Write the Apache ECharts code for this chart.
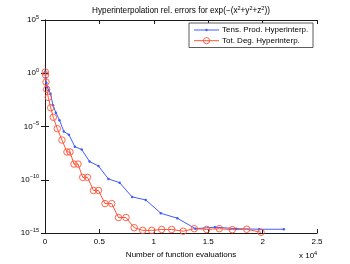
<!DOCTYPE html>
<html><head><meta charset="utf-8">
<script src="https://cdn.jsdelivr.net/npm/echarts@6/dist/echarts.min.js"></script>
<style>html,body{margin:0;padding:0;background:#fff}#c{width:350px;height:264px}</style>
</head><body><div id="c"></div>
<script>
// ---- data ----
const tpName = 'Tens. Prod. Hyperinterp.';
const tdName = 'Tot. Deg. Hyperinterp.';
const tpX = [27, 64, 125, 216, 343, 512, 729, 1000, 1331, 1728, 2197, 2744, 3375, 4096, 4913, 5832, 6859, 8000, 9261, 10648, 12167, 13824, 15625, 17576, 19683, 21952];
const tpY = [1.5, 3.6e-1, 1.2e-1, 5.2e-2, 2.5e-2, 1.2e-2, 1.0e-3, 2.0e-4, 4.0e-5, 3.5e-6, 1.7e-6, 1.3e-7, 6.9e-8, 5.2e-9, 2.0e-9, 1.2e-10, 5.4e-11, 2.5e-12, 1.3e-12, 7.2e-14, 2.5e-14, 2.6e-15, 3.6e-15, 2.6e-15, 2.3e-15, 2.3e-15];
const tdX = [28, 46, 92, 156, 303, 524, 763, 1130, 1562, 2022, 2298, 2665, 3033, 3465, 3906, 4458, 4917, 5515, 6130, 6755, 7445, 8199, 8980, 9807, 10726, 11645, 12711, 13722, 14862, 16020, 17215, 18538, 19853];
const tdY = [1.3, 6.9e-1, 1.5e-1, 3.1e-2, 5.5e-3, 5.8e-4, 7.4e-5, 6.3e-6, 5.4e-7, 4.1e-8, 4.1e-8, 3.0e-9, 3.0e-9, 1.7e-10, 1.7e-10, 1.0e-11, 1.0e-11, 5.9e-13, 5.9e-13, 2.9e-14, 2.9e-14, 3.2e-15, 1.8e-15, 1.8e-15, 2.2e-15, 2.2e-15, 1.5e-15, 2.6e-15, 2.2e-15, 2.6e-15, 2.1e-15, 2.3e-15, 1.2e-15];
const xTickLabels = ['0', '0.5', '1', '1.5', '2', '2.5'];
const yTickExps = [-15, -10, -5, 0, 5];
const xName = 'Number of function evaluations';

const FONT = 'Liberation Sans, Arial, Helvetica, sans-serif';
const AX = '#1a1a1a';
const BLUE = '#3f5cff';
const RED = '#ff5438';

const supRich = {
  b: {fontSize: 8, fontFamily: FONT, color: '#000', lineHeight: 12},
  s: {fontSize: 5.5, fontFamily: FONT, color: '#000', lineHeight: 6, verticalAlign: 'top'}
};
const supRichG = {s: {fontSize: 5.5, fontFamily: FONT, fill: '#000', lineHeight: 6, verticalAlign: 'top'}};

function pair(xs, ys) { return xs.map((x, i) => [x, ys[i]]); }
function expLabel(v) {
  const e = Math.round(Math.log10(v));
  if (yTickExps.indexOf(e) < 0) return '';
  return '{b|10}{s|' + String(e).replace('-', '\u2212') + '}';
}

const chart = echarts.init(document.getElementById('c'), null, {renderer: 'canvas'});
const gridL = 45, gridR = 33, gridT = 20, gridB = 30;

// legend drawn as graphic (box, sample lines, markers, labels)
const LG = {x: 189, y: 23, w: 124, h: 24.5, lx0: 194, lx1: 219, tx: 222, y1: 30, y2: 40.7};
const legendGraphics = [
  {type: 'rect', z: 100, shape: {x: LG.x, y: LG.y, width: LG.w, height: LG.h},
   style: {fill: '#fff', stroke: '#333', lineWidth: 0.8}},
  {type: 'line', z: 101, shape: {x1: LG.lx0, y1: LG.y1, x2: LG.lx1, y2: LG.y1}, style: {stroke: BLUE, lineWidth: 1}},
  {type: 'circle', z: 101, shape: {cx: (LG.lx0 + LG.lx1) / 2, cy: LG.y1, r: 1.2}, style: {fill: BLUE}},
  {type: 'line', z: 101, shape: {x1: LG.lx0, y1: LG.y2, x2: LG.lx1, y2: LG.y2}, style: {stroke: RED, lineWidth: 1}},
  {type: 'circle', z: 101, shape: {cx: (LG.lx0 + LG.lx1) / 2, cy: LG.y2, r: 3.1}, style: {fill: 'none', stroke: RED, lineWidth: 0.9}},
  {type: 'text', z: 101, x: LG.tx, y: LG.y1, style: {text: tpName, fontSize: 8, fontFamily: FONT, fill: '#000', verticalAlign: 'middle'}},
  {type: 'text', z: 101, x: LG.tx, y: LG.y2, style: {text: tdName, fontSize: 8, fontFamily: FONT, fill: '#000', verticalAlign: 'middle'}}
];

chart.setOption({
  animation: false,
  backgroundColor: '#fff',
  grid: {left: gridL, right: gridR, top: gridT, bottom: gridB, containLabel: false},
  graphic: [
    {type: 'text', x: 181, y: 11, style: {
      text: 'Hyperinterpolation rel. errors for exp(\u2212(x{s|2}+y{s|2}+z{s|2}))',
      rich: supRichG, fontSize: 8.2, fontFamily: FONT, fill: '#000', lineHeight: 12,
      align: 'center', verticalAlign: 'middle'}},
    {type: 'text', x: 299, y: 256, style: {
      text: 'x 10{s|4}', rich: supRichG,
      fontSize: 8, fontFamily: FONT, fill: '#000', lineHeight: 12,
      align: 'left', verticalAlign: 'middle'}}
  ].concat(legendGraphics),
  xAxis: [
    {type: 'value', min: 0, max: 25000, interval: 5000,
     name: xName, nameLocation: 'middle', nameGap: 15,
     nameTextStyle: {fontSize: 8, fontFamily: FONT, color: '#000'},
     axisLine: {lineStyle: {color: AX, width: 1}},
     axisTick: {inside: true, length: 4, lineStyle: {color: AX}},
     axisLabel: {fontSize: 8, fontFamily: FONT, color: '#000', margin: 5,
       formatter: v => xTickLabels[Math.round(v / 5000)]},
     splitLine: {show: false}},
    {type: 'value', min: 0, max: 25000, interval: 5000, position: 'top',
     axisLine: {lineStyle: {color: AX, width: 1}},
     axisTick: {inside: true, length: 4, lineStyle: {color: AX}},
     axisLabel: {show: false}, splitLine: {show: false}}
  ],
  yAxis: [
    {type: 'log', logBase: 10, min: 1e-15, max: 1e5, interval: 5,
     axisLine: {show: true, lineStyle: {color: AX, width: 1}},
     axisTick: {show: true, inside: true, length: 4, lineStyle: {color: AX}},
     minorTick: {show: false},
     axisLabel: {margin: 6, formatter: expLabel, rich: supRich},
     splitLine: {show: false}},
    {type: 'log', logBase: 10, min: 1e-15, max: 1e5, interval: 5, position: 'right',
     axisLine: {show: true, lineStyle: {color: AX, width: 1}},
     axisTick: {show: true, inside: true, length: 4, lineStyle: {color: AX}},
     axisLabel: {show: false}, splitLine: {show: false}}
  ],
  series: [
    {name: tpName, type: 'line', data: pair(tpX, tpY),
     xAxisIndex: 0, yAxisIndex: 0,
     symbol: 'circle', symbolSize: 2.5, showSymbol: true,
     lineStyle: {color: BLUE, width: 1}, itemStyle: {color: BLUE}},
    {name: tdName, type: 'line', data: pair(tdX, tdY),
     xAxisIndex: 0, yAxisIndex: 0,
     symbol: 'circle', symbolSize: 6.5, showSymbol: true,
     lineStyle: {color: RED, width: 1},
     itemStyle: {color: 'rgba(0,0,0,0)', borderColor: RED, borderWidth: 0.9}}
  ]
});
</script>
</body></html>
